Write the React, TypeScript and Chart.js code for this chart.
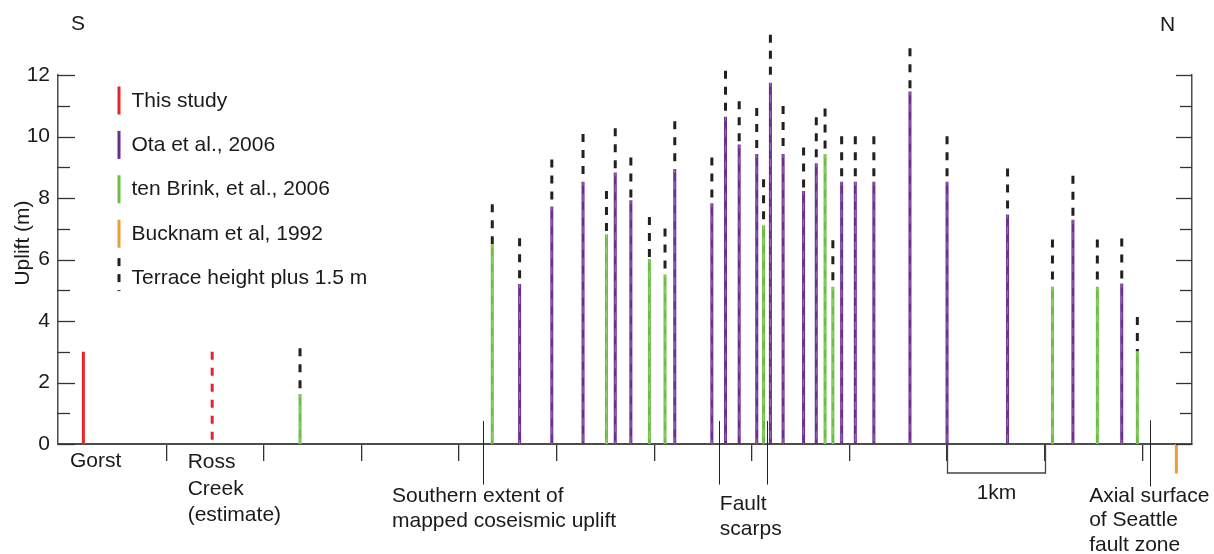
import React, { useEffect, useRef } from 'react';
import { Chart, registerables } from 'chart.js';

Chart.register(...registerables);

const FONT = "'Liberation Sans', Arial, Helvetica, sans-serif";
const FONT_SIZE = 21;
const RED = '#e4262b';
const PURPLE = '#6b2e8f';
const GREEN = '#6cbd45';
const ORANGE = '#e9a033';
const BLACK = '#231f20';
const AXIS = '#4d4d4d';
const TEXT = '#1a1a1a';
const SHEEN = 'rgba(255,255,255,0.28)';

// ---- axis ticks ----
const yTickMajor = [0, 2, 4, 6, 8, 10, 12];
const yTickMinor = [1, 3, 5, 7, 9, 11];
const xTickKm = [1, 2, 3, 4, 5, 6, 7, 8, 9, 10, 11];

// ---- data (distance along profile in km, uplift in m) ----
const thisStudyKm = [0.15];
const thisStudyUplift = [3.0];

const rossCreekKm = [1.47];
const rossCreekUplift = [3.0];

const otaKm = [4.62, 4.95, 5.27, 5.6, 5.76, 6.21, 6.59, 6.73, 6.87, 7.05, 7.19, 7.32, 7.53, 7.66, 7.92, 8.06, 8.25, 8.62, 9.0, 9.62, 10.29, 10.79];
const otaUplift = [5.2, 7.72, 8.53, 8.83, 7.93, 8.94, 7.83, 10.64, 9.74, 9.43, 11.75, 9.43, 8.23, 9.13, 8.53, 8.53, 8.53, 11.46, 8.53, 7.46, 7.29, 5.22];
const otaTerrace = [6.69, 9.25, 10.08, 10.27, 9.32, 10.5, 9.32, 12.14, 11.15, 10.93, 13.31, 10.99, 9.64, 10.63, 10.01, 10.01, 10.01, 12.87, 10.01, 8.96, 8.72, 6.68];

const tenBrinkKm = [2.37, 4.34, 5.51, 5.95, 6.11, 7.12, 7.75, 7.83, 10.08, 10.54, 10.95];
const tenBrinkUplift = [1.63, 6.5, 6.82, 6.02, 5.51, 7.11, 9.43, 5.11, 5.11, 5.11, 3.01];
const tenBrinkTerrace = [3.11, 7.8, 8.23, 7.38, 7.01, 8.61, 10.91, 6.63, 6.65, 6.65, 4.13];

const bucknamKm = [11.35];
const bucknamUplift = [-0.96];

const seriesLabels = [
  'This study',
  'Ota et al., 2006',
  'ten Brink, et al., 2006',
  'Bucknam et al, 1992',
  'Terrace height plus 1.5 m',
];

// ---- annotations ----
const markerLines = [
  { km: 4.25, top: 0.75, bottom: -1.32 },
  { km: 6.665, top: 0.75, bottom: -1.32 },
  { km: 7.16, top: 0.75, bottom: -1.32 },
  { km: 11.08, top: 0.77, bottom: -1.38 },
];
const scaleBarKm = [9, 10];
const scaleBarLabel = '1km';

const notes = [
  { lines: ['Gorst'], km: 0.013, dy: 23, lh: 26 },
  { lines: ['Ross', 'Creek', '(estimate)'], km: 1.219, dy: 24, lh: 26.5 },
  { lines: ['Southern extent of', 'mapped coseismic uplift'], km: 3.312, dy: 57.5, lh: 25 },
  { lines: ['Fault', 'scarps'], km: 6.672, dy: 66, lh: 25 },
  { lines: ['Axial surface', 'of Seattle', 'fault zone'], km: 10.456, dy: 57.5, lh: 24.5 },
];

type Pt = { x: number; y: number | null };

function stems(km: number[], top: number[], base: number[] | number): Pt[] {
  const pts: Pt[] = [];
  km.forEach((x, i) => {
    pts.push({ x, y: top[i] });
    pts.push({ x, y: Array.isArray(base) ? base[i] : base });
    pts.push({ x, y: null });
  });
  return pts;
}

const decor = {
  id: 'decor',
  afterDraw(chart: any) {
    const { ctx, chartArea: a, scales } = chart;
    const x = scales.x;
    const y = scales.y;
    const seg = (x1: number, y1: number, x2: number, y2: number) => {
      ctx.beginPath();
      ctx.moveTo(x1, y1);
      ctx.lineTo(x2, y2);
      ctx.stroke();
    };
    ctx.save();
    // inward y ticks on both axes
    ctx.strokeStyle = '#333';
    ctx.lineWidth = 1.3;
    yTickMajor.forEach((v) => {
      const py = Math.round(y.getPixelForValue(v)) + 0.5;
      seg(a.left, py, a.left + 17, py);
      seg(a.right, py, a.right - 16, py);
    });
    yTickMinor.forEach((v) => {
      const py = Math.round(y.getPixelForValue(v)) + 0.5;
      seg(a.left, py, a.left + 12, py);
      seg(a.right, py, a.right - 12, py);
    });
    // annotation marker lines
    ctx.lineWidth = 1;
    ctx.strokeStyle = '#222';
    markerLines.forEach((m) => {
      const px = Math.round(x.getPixelForValue(m.km)) + 0.5;
      seg(px, y.getPixelForValue(m.top), px, y.getPixelForValue(m.bottom));
    });
    // 1 km scale bar
    const b0 = Math.round(x.getPixelForValue(scaleBarKm[0])) + 0.5;
    const b1 = Math.round(x.getPixelForValue(scaleBarKm[1])) + 0.5;
    const by = a.bottom + 29;
    ctx.strokeStyle = '#444';
    ctx.lineWidth = 1.3;
    ctx.beginPath();
    ctx.moveTo(b0, a.bottom);
    ctx.lineTo(b0, by);
    ctx.lineTo(b1, by);
    ctx.lineTo(b1, a.bottom);
    ctx.stroke();

    // texts
    ctx.fillStyle = TEXT;
    ctx.font = `${FONT_SIZE}px ${FONT}`;
    ctx.textBaseline = 'alphabetic';
    ctx.textAlign = 'left';
    notes.forEach((n) => {
      const px = x.getPixelForValue(n.km);
      n.lines.forEach((t, i) => ctx.fillText(t, px, a.bottom + n.dy + i * n.lh));
    });
    ctx.textAlign = 'center';
    ctx.fillText(scaleBarLabel, (b0 + b1) / 2, a.bottom + 54.5);
    ctx.textAlign = 'left';
    ctx.fillText('S', 71, 30);
    ctx.fillText('N', 1160, 31);

    // y axis title
    ctx.save();
    ctx.translate(28.5, 243);
    ctx.rotate(-Math.PI / 2);
    ctx.textAlign = 'center';
    ctx.fillText('Uplift (m)', 0, 0);
    ctx.restore();

    // legend inside plot area
    const legendSets = chart.data.datasets.filter((d: any) => d.label);
    legendSets.forEach((d: any, i: number) => {
      const base = 106.5 + i * 44.4;
      const dashed = d.borderDash && d.borderDash.length;
      ctx.save();
      ctx.strokeStyle = d.borderColor;
      ctx.lineWidth = 3;
      ctx.setLineDash(dashed ? d.borderDash : []);
      const top = dashed ? base - 26 : base - 20;
      const len = dashed ? 33 : 28;
      seg(119, top, 119, top + len);
      ctx.restore();
      ctx.fillStyle = TEXT;
      ctx.textAlign = 'left';
      ctx.fillText(d.label, 131.5, base);
    });
    ctx.restore();
  },
};

export default function App() {
  const ref = useRef<HTMLCanvasElement | null>(null);

  useEffect(() => {
    if (!ref.current) return;
    const line = {
      borderWidth: 3,
      pointRadius: 0,
      pointHoverRadius: 0,
      tension: 0,
      fill: false,
      spanGaps: false,
      clip: false as any,
      borderCapStyle: 'butt' as const,
    };
    const sheen = { ...line, label: '', borderWidth: 1.2, borderColor: SHEEN, borderDash: [8, 8], borderDashOffset: 4 };
    const otaStems = stems(otaKm, otaUplift, 0);
    const tenBrinkStems = stems(tenBrinkKm, tenBrinkUplift, 0);
    const chart = new Chart(ref.current, {
      type: 'line',
      data: {
        datasets: [
          { ...sheen, data: otaStems },
          { ...sheen, data: tenBrinkStems },
          { ...line, label: seriesLabels[0], data: stems(thisStudyKm, thisStudyUplift, 0), borderColor: RED },
          { ...line, label: '', data: stems(rossCreekKm, rossCreekUplift, 0), borderColor: RED, borderDash: [8, 8] },
          { ...line, label: seriesLabels[1], data: otaStems, borderColor: PURPLE },
          { ...line, label: seriesLabels[2], data: tenBrinkStems, borderColor: GREEN },
          { ...line, label: seriesLabels[3], data: stems(bucknamKm, bucknamUplift, 0), borderColor: ORANGE },
          {
            ...line,
            label: seriesLabels[4],
            data: stems(otaKm.concat(tenBrinkKm), otaTerrace.concat(tenBrinkTerrace), otaUplift.concat(tenBrinkUplift)),
            borderColor: BLACK,
            borderDash: [8, 8],
          },
        ] as any,
      },
      options: {
        animation: false,
        responsive: true,
        maintainAspectRatio: false,
        devicePixelRatio: 1,
        events: [],
        layout: { padding: { top: 75, left: 0, right: 0, bottom: 0 } },
        plugins: { legend: { display: false }, tooltip: { enabled: false }, title: { display: false } },
        scales: {
          x: {
            type: 'linear',
            min: -0.11,
            max: 11.51,
            afterBuildTicks: (s: any) => {
              s.ticks = xTickKm.map((v) => ({ value: v }));
            },
            ticks: { display: false },
            grid: { display: true, drawOnChartArea: false, drawTicks: true, tickLength: 17, color: '#333', lineWidth: 1.3 },
            border: { display: true, color: AXIS, width: 2 },
            afterFit: (s: any) => {
              s.height = 110;
            },
          },
          y: {
            type: 'linear',
            position: 'left',
            min: 0,
            max: 12,
            ticks: { stepSize: 2, color: TEXT, padding: 8, font: { size: FONT_SIZE, family: FONT } },
            grid: { display: false, drawTicks: false },
            border: { display: true, color: AXIS, width: 1.5 },
            afterFit: (s: any) => {
              s.width = 58;
            },
          },
          y2: {
            type: 'linear',
            position: 'right',
            min: 0,
            max: 12,
            ticks: { display: false },
            grid: { display: false, drawTicks: false },
            border: { display: true, color: AXIS, width: 1.5 },
            afterFit: (s: any) => {
              s.width = 22;
            },
          },
        },
      } as any,
      plugins: [decor],
    });
    return () => chart.destroy();
  }, []);

  return (
    <div style={{ position: 'absolute', left: 0, top: 0, width: 1214, height: 554, background: '#fff' }}>
      <canvas ref={ref} />
    </div>
  );
}
